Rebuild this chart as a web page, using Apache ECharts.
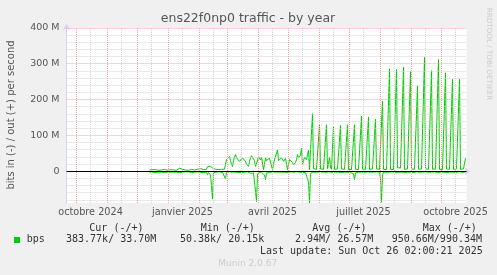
<!DOCTYPE html>
<html><head><meta charset="utf-8">
<script src="https://cdn.jsdelivr.net/npm/echarts@6/dist/echarts.min.js"></script>
<style>html,body{margin:0;padding:0;background:#f0f0f0}#c{width:497px;height:275px}</style>
</head><body><div id="c"></div>
<script>
// ---- axis extent (400 days, one day per pixel) ----
const axisStart = '2024-09-21';
const axisEnd = '2025-10-26';
const dataStart = '2024-12-13';

// ---- out (+) series, M bits/s, one value per day from dataStart ----
const outValues = [
  4,6,3,5,6,3,5,4,6,3,
  5,6,4,3,5,6,4,5,3,6,
  4,5,6,3,4,6,5,3,6,4,
  9,5,4,6,8,5,4,6,5,3,
  5,4,6,7,5,4,3,5,6,4,
  5,8,6,4,5,7,4,6,13,16,
  11,15,17,9,7,9,6,8,7,5,
  6,7,6,5,7,6,4,33,28,35,
  42,30,20,14,30,40,47,38,33,33,
  28,24,30,38,42,35,28,20,16,14,
  28,38,44,47,47,30,14,12,30,42,
  38,32,40,36,5,20,38,30,25,30,
  37,36,33,5,20,33,30,28,60,30,
  25,32,38,33,28,33,36,38,5,20,
  33,30,33,25,18,15,25,33,47,38,
  33,45,65,20,28,40,35,33,47,59,
  5,5,8,
  161,8,6,5,6,7,6,
  130,7,6,5,6,7,8,
  130,8,20,40,12,6,5,
  126,6,5,6,7,6,5,
  128,7,6,5,6,7,6,
  130,6,5,6,5,6,7,
  130,6,7,6,5,6,6,
  154,7,6,5,6,7,6,
  152,6,5,6,7,6,5,
  146,7,6,5,6,7,6,
  196,6,5,6,5,6,7,
  286,6,7,6,5,6,6,
  284,10,10,11,10,10,7,
  291,6,5,6,7,6,5,
  279,7,6,5,6,7,6,
  239,6,5,6,7,6,5,
  318,7,6,5,6,6,7,
  281,6,5,6,7,6,5,
  312,6,7,6,5,6,6,
  275,7,6,5,6,7,6,
  257,6,5,6,7,6,5,
  257,6,5,6,7,6,37
];

// ---- in (-) series, M bits/s (negated), one value per day from dataStart ----
const inValues = [
  -2,-1,-3,-2,-1,-2,-3,-1,-2,-2,
  -1,-3,-2,-1,-2,-3,-1,-2,-2,-1,
  -3,-2,-1,-2,-2,-3,-1,-2,-1,-2,
  -3,-2,-1,-2,-4,-2,-1,-3,-2,-1,
  -2,-1,-3,-2,-1,-2,-2,-3,-1,-2,
  -2,-3,-2,-1,-3,-2,-1,-2,-9,-3,
  -2,-10,-40,-77,-3,-2,-1,-2,-3,-2,
  -1,-2,-2,-3,-2,-5,-21,-3,-2,-3,
  -1,-2,-4,-2,-1,-3,-2,-2,-1,-3,
  -2,-2,-3,-1,-2,-2,-3,-2,-1,-2,
  -3,-5,-3,-2,-4,-30,-55,-84,-10,-3,
  -5,-2,-2,-3,-5,-10,-23,-4,-2,-1,
  -3,-2,-2,-1,-2,-3,-2,-1,-2,-2,
  -3,-1,-2,-2,-3,-2,-1,-2,-3,-2,
  -2,-1,-3,-2,-2,-4,-2,-1,-2,-3,
  -2,-2,-1,-3,-2,-2,-3,-1,-2,-30,
  -87,-8,-2,
  -2,-3,-2,-1,-2,-2,-3,
  -2,-1,-2,-3,-2,-2,-1,
  -2,-3,-2,-1,-2,-2,-3,
  -2,-1,-2,-3,-2,-2,-1,
  -2,-3,-2,-1,-2,-2,-3,
  -2,-1,-2,-3,-2,-2,-6,
  -23,-4,-2,-1,-2,-2,-3,
  -2,-1,-2,-3,-2,-2,-1,
  -2,-3,-2,-1,-2,-2,-3,
  -2,-1,-2,-3,-2,-20,-86,
  -10,-2,-2,-3,-2,-1,-2,
  -2,-3,-2,-1,-2,-2,-3,
  -2,-1,-2,-3,-2,-2,-1,
  -2,-3,-2,-1,-2,-2,-3,
  -2,-1,-2,-3,-2,-2,-1,
  -2,-3,-2,-1,-2,-2,-3,
  -2,-1,-2,-3,-2,-2,-1,
  -2,-3,-2,-1,-2,-2,-3,
  -2,-1,-2,-3,-2,-2,-1,
  -2,-3,-2,-1,-2,-2,-3,
  -2,-1,-2,-3,-2,-2,-1,
  -2,-3,-2,-1,-2,-2,-1
];

// ---- axes / ticks ----
const monthStarts = ['2024-10-01','2024-11-01','2024-12-01','2025-01-01','2025-02-01','2025-03-01',
  '2025-04-01','2025-05-01','2025-06-01','2025-07-01','2025-08-01','2025-09-01','2025-10-01'];
const midMonths = ['2024-10-15','2024-11-15','2024-12-15','2025-01-15','2025-02-15','2025-03-15',
  '2025-04-15','2025-05-15','2025-06-15','2025-07-15','2025-08-15','2025-09-15','2025-10-15'];
const xLabelDates = ['2024-10-15','2025-01-15','2025-04-15','2025-07-15','2025-10-15'];
const xLabelTexts = ['octobre 2024','janvier 2025','avril 2025','juillet 2025','octobre 2025'];
const yTicks = [0,100,200,300,400];
const yMin = -88, yMax = 400;
const yMinorStep = 20;

// ---- texts ----
const titleText = 'ens22f0np0 traffic - by year';
const yAxisTitle = 'bits in (-) / out (+) per second';
const watermark = 'RRDTOOL / TOBI OETIKER';
const legendName = 'bps';
const legendHeaders = ['Cur (-/+)','Min (-/+)','Avg (-/+)','Max (-/+)'];
const legendValues = ['383.77k/ 33.70M','50.38k/ 20.15k','2.94M/ 26.57M','950.66M/990.34M'];
const lastUpdate = 'Last update: Sun Oct 26 02:00:21 2025';
const footer = 'Munin 2.0.67';

const GREEN = '#00cc00';
const DAY = 864e5;
const t0 = Date.parse(axisStart);
const dayOf = s => (Date.parse(s) - t0) / DAY;
const d0 = dayOf(dataStart);
const outData = outValues.map((v, i) => [d0 + i, v]);
const inData = inValues.map((v, i) => [d0 + i, v]);
const labelMap = {};
xLabelDates.forEach((s, i) => { labelMap[dayOf(s)] = xLabelTexts[i]; });

// layout
const G = { left: 66.5, top: 28, width: 400, height: 175 };
// snap horizontal grid values to pixel centres so dotted lines stay crisp
const snapY = v => {
  const span = yMax - yMin;
  const p = G.top + G.height * (yMax - v) / span;
  const ps = Math.round(p - 0.5) + 0.5;
  return yMax - (ps - G.top) * span / G.height;
};

const minorY = [];
for (let v = -80; v < yMax; v += yMinorStep) if (v % 100 !== 0) minorY.push(v);
const majorY = yTicks.filter(v => v !== 0);

const chart = echarts.init(document.getElementById('c'), null, { renderer: 'canvas' });
const mono = '10px "DejaVu Sans Mono"';
const txt = (text, x, y, font, fill, align, rotation) => ({
  type: 'text', silent: true, x, y, rotation: rotation || 0,
  style: { text, x: 0, y: 0, font, fill, align: align || 'left', verticalAlign: 'middle',
           textAlign: align || 'left', textVerticalAlign: 'middle' }
});

const cols = [89.3, 200.7, 312.3, 422.7];
const valCols = [66, 180, 295, 391.7];
const minorStyle = { color: '#d4d4d4', type: [1, 1], width: 1 };
const majorStyle = { color: '#f4a4a4', type: [1, 1], width: 1 };

chart.setOption({
  animation: false,
  backgroundColor: '#f0f0f0',
  grid: Object.assign({ show: true, backgroundColor: '#ffffff', borderWidth: 0 }, G),
  xAxis: {
    type: 'value', min: 0, max: dayOf(axisEnd),
    axisLine: { show: true, lineStyle: { color: '#cfd6f8', width: 1 }, symbol: ['none', 'arrow'], symbolSize: [6, 6], symbolOffset: [0, 4] },
    axisTick: { show: false },
    splitLine: { show: false },
    axisLabel: {
      customValues: xLabelDates.map(dayOf),
      formatter: v => labelMap[v] || '',
      color: '#555', fontFamily: 'DejaVu Sans', fontSize: 9.7, margin: 4
    }
  },
  yAxis: {
    type: 'value', min: yMin, max: yMax,
    axisLine: { show: true, lineStyle: { color: '#cfd6f8', width: 1 }, symbol: ['none', 'arrow'], symbolSize: [6, 6], symbolOffset: [0, 4] },
    axisTick: { show: false },
    splitLine: { show: false },
    axisLabel: {
      customValues: yTicks,
      formatter: v => v === 0 ? '0' : v + ' M',
      color: '#555', fontFamily: 'DejaVu Sans', fontSize: 9.5, margin: 7
    }
  },
  series: [
    {
      type: 'line', data: [], z: 1, silent: true,
      markLine: {
        silent: true, symbol: ['none', 'none'], label: { show: false }, animation: false,
        data: [
          ...minorY.map(v => ({ yAxis: snapY(v), lineStyle: minorStyle })),
          ...midMonths.map(s => ({ xAxis: dayOf(s), lineStyle: minorStyle })),
          ...majorY.map(v => ({ yAxis: snapY(v), lineStyle: majorStyle })),
          ...monthStarts.map(s => ({ xAxis: dayOf(s), lineStyle: majorStyle }))
        ]
      }
    },
    { name: 'out', type: 'line', data: outData, z: 3, showSymbol: false, symbol: 'none',
      lineStyle: { color: GREEN, width: 1 }, itemStyle: { color: GREEN } },
    { name: 'in', type: 'line', data: inData, z: 3, showSymbol: false, symbol: 'none',
      lineStyle: { color: GREEN, width: 1 }, itemStyle: { color: GREEN } },
    {
      type: 'line', data: [], z: 5, silent: true,
      markLine: { silent: true, symbol: ['none', 'none'], label: { show: false }, animation: false,
        data: [{ yAxis: snapY(0), lineStyle: { color: '#000000', type: 'solid', width: 1 } }] }
    }
  ],
  graphic: [
    txt(titleText, 248, 19, '12.5px "DejaVu Sans"', '#555', 'center'),
    txt(yAxisTitle, 11, 115, '10px "DejaVu Sans"', '#555', 'center', Math.PI / 2),
    txt(watermark, 488.5, 54, '7.2px "DejaVu Sans"', '#cccccc', 'center', -Math.PI / 2),
    { type: 'rect', silent: true, shape: { x: 14, y: 237, width: 6, height: 6 }, style: { fill: GREEN } },
    txt(legendName, 26.7, 239.5, mono, '#333'),
    ...legendHeaders.map((h, i) => txt(h, cols[i], 228, mono, '#333')),
    ...legendValues.map((h, i) => txt(h, valCols[i], 239.5, mono, '#333')),
    txt(lastUpdate, 482.7, 251, mono, '#333', 'right'),
    txt(footer, 247.7, 264, '9px "DejaVu Sans"', '#cccccc', 'center')
  ]
});
</script></body></html>
